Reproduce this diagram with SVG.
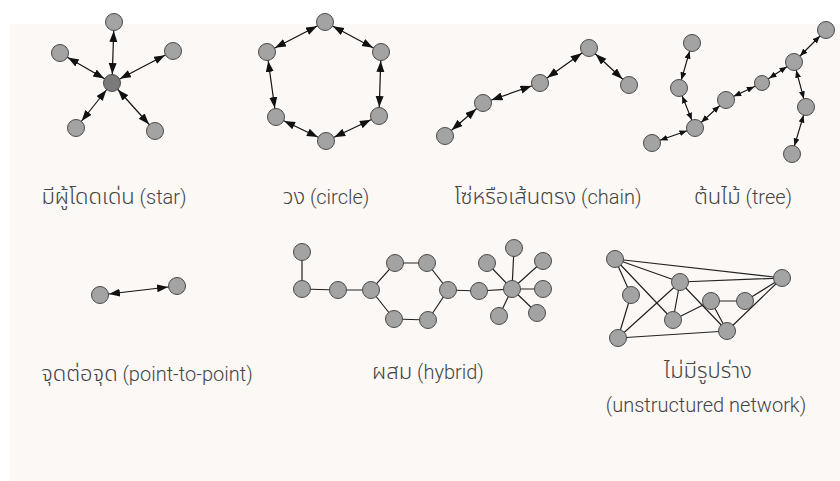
<svg xmlns="http://www.w3.org/2000/svg" width="840" height="481" viewBox="0 0 840 481">
<defs>
<style>
.n{fill:#a3a3a3;stroke:#4a4a4a;stroke-width:1}
.hub{fill:#7a7a7a;stroke:#4a4a4a;stroke-width:1}
.e{stroke:#222;stroke-width:1.2;fill:none}
.a{stroke:#111;stroke-width:1.2;fill:none;marker-start:url(#ah);marker-end:url(#ah)}
.t{stroke:#111;stroke-width:1.1;fill:none;marker-start:url(#as);marker-end:url(#as)}
.lbl{font-family:Roboto,"Liberation Sans",sans-serif;font-weight:300;font-size:20px;fill:#444;text-anchor:middle}
.th{font-family:"Noto Sans Thai","Noto Sans",sans-serif;font-weight:300;font-size:22px}
</style>
<marker id="ah" markerUnits="userSpaceOnUse" markerWidth="32" markerHeight="10" refX="20" refY="4" orient="auto-start-reverse"><path d="M0,0 L11,4 L0,8 z" fill="#111"/></marker>
<marker id="as" markerUnits="userSpaceOnUse" markerWidth="26" markerHeight="8" refX="16" refY="3" orient="auto-start-reverse"><path d="M0,0 L7.5,3 L0,6 z" fill="#111"/></marker>
</defs>
<rect x="0" y="0" width="840" height="481" fill="#ffffff"/>
<rect x="10" y="24" width="830" height="457" fill="#fcf8f6"/>

<g id="connectors">
<line class="a" x1="112" y1="83" x2="114" y2="22"/>
<line class="a" x1="112" y1="83" x2="60" y2="53"/>
<line class="a" x1="112" y1="83" x2="173" y2="51"/>
<line class="a" x1="112" y1="83" x2="76" y2="128"/>
<line class="a" x1="112" y1="83" x2="155" y2="131"/>
<line class="a" x1="325" y1="22" x2="267" y2="52"/>
<line class="a" x1="325" y1="22" x2="381" y2="52"/>
<line class="a" x1="267" y1="52" x2="276" y2="117"/>
<line class="a" x1="381" y1="52" x2="379" y2="116"/>
<line class="a" x1="276" y1="117" x2="326" y2="141"/>
<line class="a" x1="379" y1="116" x2="326" y2="141"/>
<line class="a" x1="445" y1="136" x2="483" y2="103"/>
<line class="a" x1="483" y1="103" x2="540" y2="83"/>
<line class="a" x1="540" y1="83" x2="589" y2="48"/>
<line class="a" x1="589" y1="48" x2="629" y2="85"/>
<line class="t" x1="692" y1="43" x2="679" y2="88"/>
<line class="t" x1="679" y1="88" x2="695" y2="128"/>
<line class="t" x1="695" y1="128" x2="652" y2="143"/>
<line class="t" x1="695" y1="128" x2="726" y2="100"/>
<line class="t" x1="726" y1="100" x2="762" y2="83"/>
<line class="t" x1="762" y1="83" x2="794" y2="62"/>
<line class="t" x1="794" y1="62" x2="826" y2="30"/>
<line class="t" x1="794" y1="62" x2="806" y2="107"/>
<line class="t" x1="806" y1="107" x2="792" y2="154"/>
<line class="a" x1="100" y1="295" x2="177" y2="286"/>
<path class="e" d="M302,252 L302,289 L338,290 L371,290 L395,263 L427,263 L448,290 L428,320 L394,319 L371,290 M448,290 L479,291 L512,289 M512,289 L487,263 M512,289 L514,248 M512,289 L543,261 M512,289 L543,289 M512,289 L537,313 M512,289 L499,316"/>
<path class="e" d="M615,259 L782,278 M615,259 L680,282 M615,259 L631,295 M615,259 L673,320 M631,295 L618,338 M618,338 L680,282 M618,338 L727,331 M680,282 L782,278 M680,282 L673,320 M680,282 L727,331 M673,320 L711,301 M711,301 L745,301 M711,301 L727,331 M745,301 L782,278 M727,331 L782,278"/>
</g>

<g id="star-hub"><circle class="hub" cx="112" cy="83" r="8.5"/></g>
<g id="star-1"><circle class="n" cx="114" cy="22" r="8.5"/></g>
<g id="star-2"><circle class="n" cx="60" cy="53" r="8.5"/></g>
<g id="star-3"><circle class="n" cx="173" cy="51" r="8.5"/></g>
<g id="star-4"><circle class="n" cx="76" cy="128" r="8.5"/></g>
<g id="star-5"><circle class="n" cx="155" cy="131" r="8.5"/></g>

<g id="circle-1"><circle class="n" cx="325" cy="22" r="8.5"/></g>
<g id="circle-2"><circle class="n" cx="267" cy="52" r="8.5"/></g>
<g id="circle-3"><circle class="n" cx="381" cy="52" r="8.5"/></g>
<g id="circle-4"><circle class="n" cx="276" cy="117" r="8.5"/></g>
<g id="circle-5"><circle class="n" cx="379" cy="116" r="8.5"/></g>
<g id="circle-6"><circle class="n" cx="326" cy="141" r="8.5"/></g>

<g id="chain-1"><circle class="n" cx="445" cy="136" r="8.5"/></g>
<g id="chain-2"><circle class="n" cx="483" cy="103" r="8.5"/></g>
<g id="chain-3"><circle class="n" cx="540" cy="83" r="8.5"/></g>
<g id="chain-4"><circle class="n" cx="589" cy="48" r="8.5"/></g>
<g id="chain-5"><circle class="n" cx="629" cy="85" r="8.5"/></g>

<g id="tree-1"><circle class="n" cx="692" cy="43" r="8.5"/></g>
<g id="tree-2"><circle class="n" cx="679" cy="88" r="8.5"/></g>
<g id="tree-3"><circle class="n" cx="695" cy="128" r="8.5"/></g>
<g id="tree-4"><circle class="n" cx="652" cy="143" r="8.5"/></g>
<g id="tree-5"><circle class="n" cx="726" cy="100" r="8.5"/></g>
<g id="tree-6"><circle class="n" cx="762" cy="83" r="7.5"/></g>
<g id="tree-7"><circle class="n" cx="794" cy="62" r="8.5"/></g>
<g id="tree-8"><circle class="n" cx="826" cy="30" r="8.5"/></g>
<g id="tree-9"><circle class="n" cx="806" cy="107" r="8.5"/></g>
<g id="tree-10"><circle class="n" cx="792" cy="154" r="8.5"/></g>

<g id="p2p-1"><circle class="n" cx="100" cy="295" r="8.5"/></g>
<g id="p2p-2"><circle class="n" cx="177" cy="286" r="8.5"/></g>

<g id="hyb-1"><circle class="n" cx="302" cy="252" r="8.5"/></g>
<g id="hyb-2"><circle class="n" cx="302" cy="289" r="8.5"/></g>
<g id="hyb-3"><circle class="n" cx="338" cy="290" r="8.5"/></g>
<g id="hyb-4"><circle class="n" cx="371" cy="290" r="8.5"/></g>
<g id="hyb-5"><circle class="n" cx="395" cy="263" r="8.5"/></g>
<g id="hyb-6"><circle class="n" cx="427" cy="263" r="8.5"/></g>
<g id="hyb-7"><circle class="n" cx="448" cy="290" r="8.5"/></g>
<g id="hyb-8"><circle class="n" cx="428" cy="320" r="8.5"/></g>
<g id="hyb-9"><circle class="n" cx="394" cy="319" r="8.5"/></g>
<g id="hyb-10"><circle class="n" cx="479" cy="291" r="8.5"/></g>
<g id="hyb-11"><circle class="n" cx="512" cy="289" r="8.5"/></g>
<g id="hyb-12"><circle class="n" cx="487" cy="263" r="8.5"/></g>
<g id="hyb-13"><circle class="n" cx="514" cy="248" r="8.5"/></g>
<g id="hyb-14"><circle class="n" cx="543" cy="261" r="8.5"/></g>
<g id="hyb-15"><circle class="n" cx="543" cy="289" r="8.5"/></g>
<g id="hyb-16"><circle class="n" cx="537" cy="313" r="8.5"/></g>
<g id="hyb-17"><circle class="n" cx="499" cy="316" r="8.5"/></g>

<g id="un-1"><circle class="n" cx="615" cy="259" r="8.5"/></g>
<g id="un-2"><circle class="n" cx="631" cy="295" r="8.5"/></g>
<g id="un-3"><circle class="n" cx="618" cy="338" r="8.5"/></g>
<g id="un-4"><circle class="n" cx="680" cy="282" r="8.5"/></g>
<g id="un-5"><circle class="n" cx="673" cy="320" r="8.5"/></g>
<g id="un-6"><circle class="n" cx="711" cy="301" r="8.5"/></g>
<g id="un-7"><circle class="n" cx="745" cy="301" r="8.5"/></g>
<g id="un-8"><circle class="n" cx="782" cy="278" r="8.5"/></g>
<g id="un-9"><circle class="n" cx="727" cy="331" r="8.5"/></g>

<g id="labels">
<text class="lbl" x="114" y="204"><tspan class="th">มีผู้โดดเด่น</tspan> (star)</text>
<text class="lbl" x="326" y="204"><tspan class="th">วง</tspan> (circle)</text>
<text class="lbl" x="548" y="204"><tspan class="th">โซ่หรือเส้นตรง</tspan> (chain)</text>
<text class="lbl" x="743" y="204"><tspan class="th">ต้นไม้</tspan> (tree)</text>
<text class="lbl" x="147" y="381"><tspan class="th">จุดต่อจุด</tspan> (point-to-point)</text>
<text class="lbl" x="428" y="379"><tspan class="th">ผสม</tspan> (hybrid)</text>
<text class="lbl" x="708" y="378"><tspan class="th">ไม่มีรูปร่าง</tspan></text>
<text class="lbl" x="706" y="412">(unstructured network)</text>
</g>
</svg>
